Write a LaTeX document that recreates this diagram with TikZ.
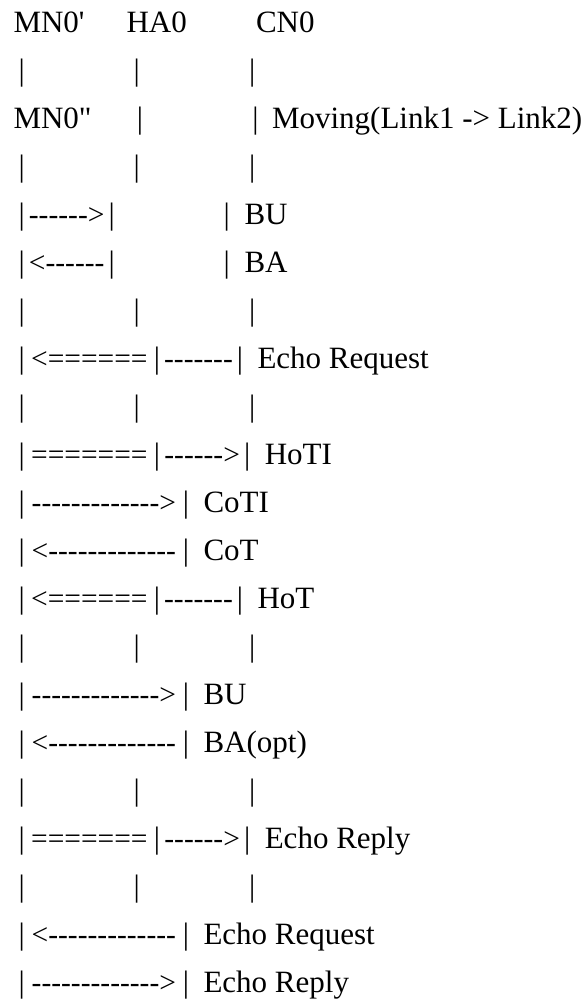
\documentclass[tikz,border=0pt]{standalone}
\usepackage{fontspec}
\usetikzlibrary{calc}
\setmainfont{Liberation Serif}[Ligatures=TeXOff]
\newcommand\lfs{\fontsize{31}{31}\selectfont}
\newcommand\rfs{\fontsize{29.5}{29.5}\selectfont}
\tikzset{
  txt/.style={font=\lfs, anchor=base west, inner sep=0pt, outer sep=0pt},
  bar/.style={font=\lfs, anchor=base, inner sep=0pt, outer sep=0pt},
  run/.style={font=\rfs, anchor=base, inner sep=0pt, outer sep=0pt}
}
% three plain life lines
\newcommand\lifelines[2]{%
  \node[bar] (#1a) at (21.7,-#2) {|};
  \node[bar] (#1b) at (136.7,-#2) {|};
  \node[bar] (#1c) at (252.3,-#2) {|};}
% MN -- HA only: pipe, run, pipe, pipe, label
\newcommand\toha[4]{%
  \node[bar] (#1a) at (21.7,-#2) {|};
  \node[bar] (#1b) at (111.7,-#2) {|};
  \node[run] (#1m) at ($(#1a.base)!0.5!(#1b.base)$) {#3};
  \node[bar] (#1c) at (226.7,-#2) {|};
  \node[txt] (#1t) at (244.5,-#2) {#4};}
% MN -- CN message: pipe, run, pipe, label
\newcommand\direct[4]{%
  \node[bar] (#1a) at (21.7,-#2) {|};
  \node[bar] (#1b) at (186,-#2) {|};
  \node[run] (#1m) at ($(#1a.base)!0.5!(#1b.base)$) {#3};
  \node[txt] (#1t) at (203.5,-#2) {#4};}
% MN -- HA -- CN message
\newcommand\viaha[6]{%
  \node[bar] (#1a) at (21.7,-#2) {|};
  \node[bar] (#1b) at (157,-#2) {|};
  \node[bar] (#1c) at (#5,-#2) {|};
  \node[run] (#1m) at ($(#1a.base)!0.5!(#1b.base)$) {#3};
  \node[run] (#1n) at ($(#1b.base)!0.5!(#1c.base)$) {#4};
  \node[txt] (#1t) at (#5+17.5,-#2) {#6};}
\begin{document}
\begin{tikzpicture}[x=1pt,y=1pt]
\useasboundingbox (0,0) rectangle (584,-999);
% row 0
\node[txt] (mnA) at (13.5,-32.3) {MN0'};
\node[txt] (ha) at (126.5,-32.3) {HA0};
\node[txt] (cn) at (256,-32.3) {CN0};
\lifelines{rA}{80.3}
% row 2
\node[txt] (mnB) at (13.5,-128.3) {MN0"};
\node[bar] (rCb) at (140,-128.3) {|};
\node[bar] (rCc) at (255.5,-128.3) {|};
\node[txt] (mov) at (272,-128.3) {Moving(Link1 -> Link2)};
\lifelines{rD}{176.3}
\toha{rE}{224.3}{------>}{BU}
\toha{rF}{272.3}{<------}{BA}
\lifelines{rG}{320.3}
\viaha{rH}{368.3}{<======}{-------}{240}{Echo Request}
\lifelines{rI}{416.3}
\viaha{rJ}{464.3}{=======}{------>}{247.3}{HoTI}
\direct{rK}{512.3}{------------->}{CoTI}
\direct{rL}{560.3}{<-------------}{CoT}
\viaha{rM}{608.3}{<======}{-------}{240}{HoT}
\lifelines{rN}{656.3}
\direct{rO}{704.3}{------------->}{BU}
\direct{rP}{752.3}{<-------------}{BA(opt)}
\lifelines{rQ}{800.3}
\viaha{rR}{848.3}{=======}{------>}{247.3}{Echo Reply}
\lifelines{rS}{896.3}
\direct{rT}{944.3}{<-------------}{Echo Request}
\direct{rU}{992.3}{------------->}{Echo Reply}
\end{tikzpicture}
\end{document}
